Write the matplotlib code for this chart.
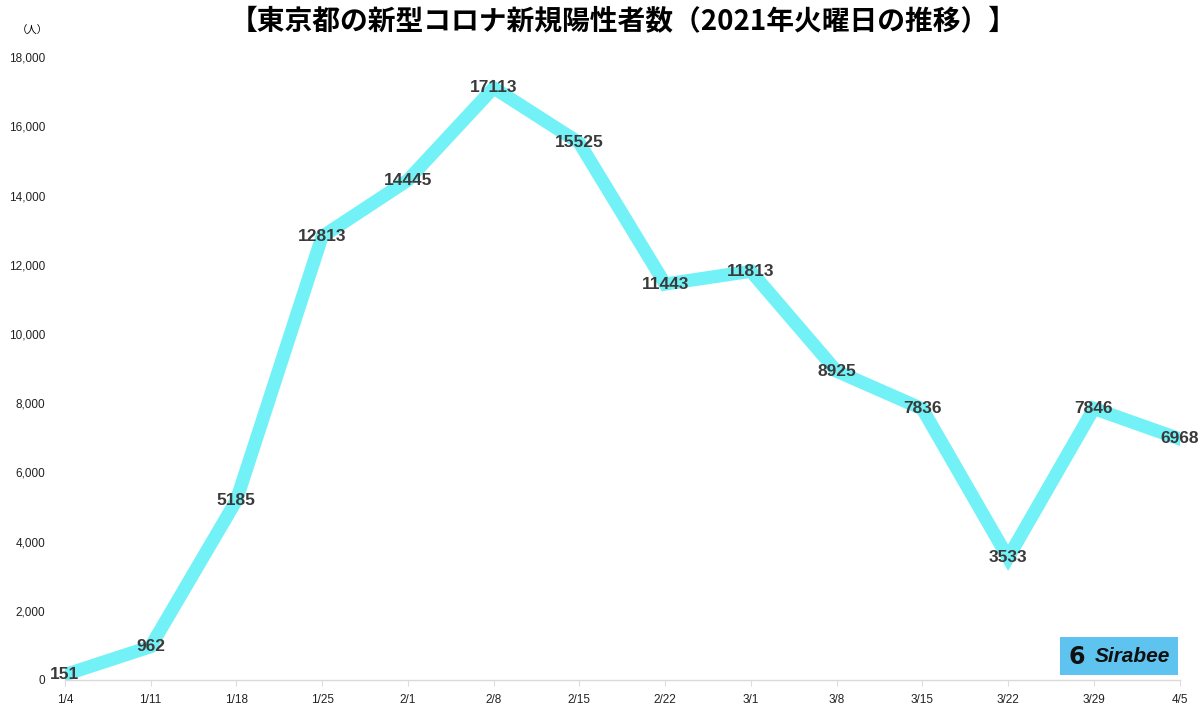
import matplotlib.pyplot as plt
from matplotlib.patches import Rectangle

plt.rcParams['font.family'] = ['Liberation Sans Narrow', 'Liberation Sans', 'DejaVu Sans']

dates = ["1/4", "1/11", "1/18", "1/25", "2/1", "2/8", "2/15", "2/22",
         "3/1", "3/8", "3/15", "3/22", "3/29", "4/5"]
cases = [151, 962, 5185, 12813, 14445, 17113, 15525, 11443,
         11813, 8925, 7836, 3533, 7846, 6968]
yticks = [0, 2000, 4000, 6000, 8000, 10000, 12000, 14000, 16000, 18000]

fig = plt.figure(figsize=(12, 7.15), dpi=100)
ax = fig.add_axes([0.054, 0.049, 0.929, 0.871])

x = list(range(len(dates)))
ax.plot(x, cases, color='#72f2f7', linewidth=9.5, solid_joinstyle='miter', zorder=2)
for xi, v in zip(x, cases):
    ax.text(xi, v, str(v), ha='center', va='center', fontsize=12.5,
            fontweight='bold', color='#3a3a3a', zorder=3)

ax.set_xlim(0, len(dates) - 1)
ax.set_ylim(0, 18000)
ax.set_xticks(x)
ax.set_xticklabels(dates, fontsize=8.5, color='#222222')
ax.set_yticks(yticks)
ax.set_yticklabels([f"{v:,}" for v in yticks], fontsize=8.5, color='#222222')
ax.tick_params(axis='x', length=4, color='#dddddd', pad=6)
ax.tick_params(axis='y', length=0, pad=14)
for s in ['top', 'right', 'left']:
    ax.spines[s].set_visible(False)
ax.spines['bottom'].set_color('#e0d8d8')
ax.spines['bottom'].set_linewidth(1)

fig.text(0.519, 0.969, "【東京都の新型コロナ新規陽性者数（2021年火曜日の推移）】",
         ha='center', va='center', fontsize=20, fontweight='bold',
         family=['Noto Sans CJK JP', 'DejaVu Sans'])
fig.text(0.027, 0.957, "（人）", ha='center', va='center', fontsize=7.5,
         family=['Noto Sans CJK JP', 'DejaVu Sans'])

# logo
fig.patches.append(Rectangle((1060 / 1200, 1 - 675 / 715), 118 / 1200, 38 / 715,
                             transform=fig.transFigure, facecolor='#5ec3ee',
                             edgecolor='none', zorder=5))
fig.text(1077 / 1200, 1 - 657 / 715, "6", ha='center', va='center',
         fontsize=17, fontweight='bold', color='#111111',
         family=['DejaVu Sans'], zorder=6)
fig.text(1132 / 1200, 1 - 657 / 715, "Sirabee", ha='center', va='center',
         fontsize=15, fontweight='bold', style='italic', color='#111111',
         family=['Liberation Sans', 'DejaVu Sans'], zorder=6)

fig.savefig('out.png', dpi=100)
